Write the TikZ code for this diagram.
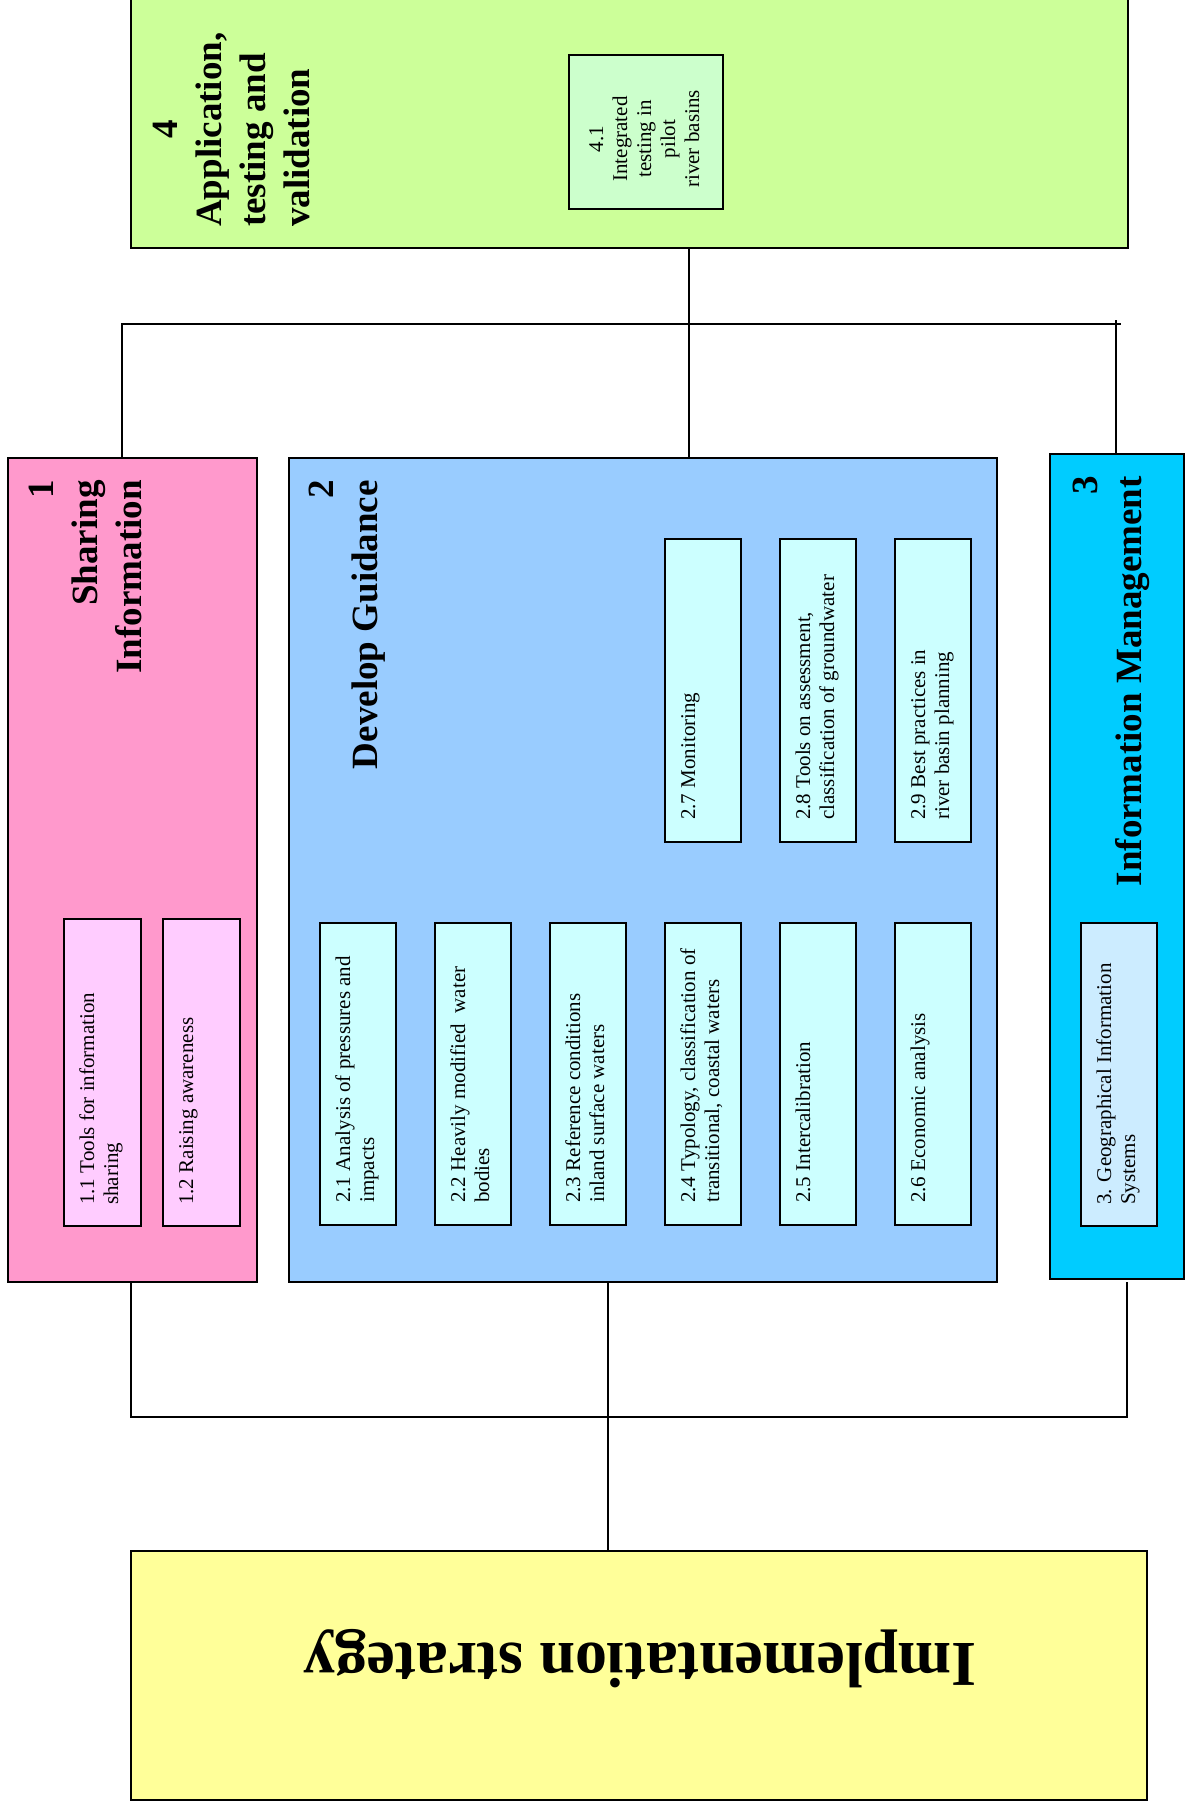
\documentclass[tikz,border=0pt]{standalone}
\usepackage{fontspec}
\setmainfont{Liberation Serif}
\usepackage{tikz}

\definecolor{sharepink}{HTML}{FF99CC}
\definecolor{sharelight}{HTML}{FFCCFF}
\definecolor{guideblue}{HTML}{99CCFF}
\definecolor{guidelight}{HTML}{CCFFFF}
\definecolor{infocyan}{HTML}{00CCFF}
\definecolor{infolight}{HTML}{CCECFF}
\definecolor{appgreen}{HTML}{CCFF99}
\definecolor{applight}{HTML}{CCFFCC}
\definecolor{implyellow}{HTML}{FFFF99}

\begin{document}
\begin{tikzpicture}[x=1pt,y=-1pt,
  box/.style={draw, line width=1.8pt, inner sep=0, outer sep=0, anchor=north west},
  link/.style={line width=1.5pt},
  title/.style={rotate=90, inner sep=0, font=\bfseries\fontsize{37}{44}\selectfont},
  itext/.style={rotate=90, inner sep=0, anchor=north west, font=\fontsize{21}{24}\selectfont}]
\useasboundingbox (0,0) rectangle (1185,1807);

% main boxes
\node[box, fill=appgreen, minimum width=997, minimum height=268] (app) at (131,-20) {};
\node[box, fill=sharepink, minimum width=249, minimum height=824] (share) at (8,458) {};
\node[box, fill=guideblue, minimum width=708, minimum height=824] (guide) at (289,458) {};
\node[box, fill=infocyan, minimum width=134, minimum height=825] (info) at (1050,454) {};
\node[box, fill=implyellow, minimum width=1016, minimum height=249] (impl) at (131,1551) {};

% titles
\node[title, anchor=north west] (appt) at (146,227)
  {\begin{tabular}{@{}l@{}}\multicolumn{1}{@{}c@{}}{4}\\Application,\\testing and\\validation\end{tabular}};
\node[title, anchor=north east] (sharet) at (22,480)
  {\begin{tabular}{@{}r@{}}1\\Sharing\\Information\end{tabular}};
\node[title, anchor=north east] (guidet) at (302,480)
  {\begin{tabular}{@{}r@{}}2\\Develop Guidance\end{tabular}};
\node[title, anchor=north east] (infot) at (1066,476)
  {\begin{tabular}{@{}r@{}}3\\Information Management\end{tabular}};
\node[rotate=180, inner sep=0, anchor=base, font=\bfseries\fontsize{64}{70}\selectfont] (implt) at (640,1643)
  {Implementation strategy};

% sub-tasks
\node[box, fill=applight, minimum width=154, minimum height=154] (a1) at (569,55) {};
\node[itext, anchor=north] (a1t) at (586,139)
  {\begin{tabular}{@{}c@{}}4.1\\Integrated\\testing in\\pilot\\river basins\end{tabular}};

\node[box, fill=sharelight, minimum width=77, minimum height=307] (s1) at (64,919) {};
\node[box, fill=sharelight, minimum width=77, minimum height=307] (s2) at (163,919) {};
\node[itext] (s1t) at ([shift={(13,-21)}]s1.south west) {\begin{tabular}{@{}l@{}}1.1 Tools for information\\sharing\end{tabular}};
\node[itext] (s2t) at ([shift={(13,-21)}]s2.south west) {\begin{tabular}{@{}l@{}}1.2 Raising awareness\end{tabular}};

\node[box, fill=guidelight, minimum width=76, minimum height=302] (g1) at (320,923) {};
\node[box, fill=guidelight, minimum width=76, minimum height=302] (g2) at (435,923) {};
\node[box, fill=guidelight, minimum width=76, minimum height=302] (g3) at (550,923) {};
\node[box, fill=guidelight, minimum width=76, minimum height=302] (g4) at (665,923) {};
\node[box, fill=guidelight, minimum width=76, minimum height=302] (g5) at (780,923) {};
\node[box, fill=guidelight, minimum width=76, minimum height=302] (g6) at (895,923) {};
\node[box, fill=guidelight, minimum width=76, minimum height=303] (g7) at (665,539) {};
\node[box, fill=guidelight, minimum width=76, minimum height=303] (g8) at (780,539) {};
\node[box, fill=guidelight, minimum width=76, minimum height=303] (g9) at (895,539) {};
\node[itext] (g1t) at ([shift={(13,-22)}]g1.south west) {\begin{tabular}{@{}l@{}}2.1 Analysis of pressures and\\impacts\end{tabular}};
\node[itext] (g2t) at ([shift={(13,-22)}]g2.south west) {\begin{tabular}{@{}l@{}}2.2 Heavily modified \ water\\bodies\end{tabular}};
\node[itext] (g3t) at ([shift={(13,-22)}]g3.south west) {\begin{tabular}{@{}l@{}}2.3 Reference conditions\\inland surface waters\end{tabular}};
\node[itext] (g4t) at ([shift={(13,-22)}]g4.south west) {\begin{tabular}{@{}l@{}}2.4 Typology, classification of\\transitional, coastal waters\end{tabular}};
\node[itext] (g5t) at ([shift={(13,-22)}]g5.south west) {\begin{tabular}{@{}l@{}}2.5 Intercalibration\end{tabular}};
\node[itext] (g6t) at ([shift={(13,-22)}]g6.south west) {\begin{tabular}{@{}l@{}}2.6 Economic analysis\end{tabular}};
\node[itext] (g7t) at ([shift={(13,-22)}]g7.south west) {\begin{tabular}{@{}l@{}}2.7 Monitoring\end{tabular}};
\node[itext] (g8t) at ([shift={(13,-22)}]g8.south west) {\begin{tabular}{@{}l@{}}2.8 Tools on assessment,\\classification of groundwater\end{tabular}};
\node[itext] (g9t) at ([shift={(13,-22)}]g9.south west) {\begin{tabular}{@{}l@{}}2.9 Best practices in\\river basin planning\end{tabular}};

\node[box, fill=infolight, minimum width=76, minimum height=303] (i1) at (1081,923) {};
\node[itext] (i1t) at ([shift={(13,-21)}]i1.south west) {\begin{tabular}{@{}l@{}}3. Geographical Information\\Systems\end{tabular}};

% connectors
\coordinate (u1) at (122,324);
\coordinate (u2) at (1121,324);
\coordinate (u3) at (1116,320);
\coordinate (u4) at (689,324);
\coordinate (l1) at (131,1417);
\coordinate (l2) at (1127,1417);
\coordinate (l4) at (608,1417);
\draw[link] (u1 |- share.north) -- (u1) -- (u2);
\draw[link] (u4 |- app.south) -- (u4 |- guide.north);
\draw[link] (u3) -- (u3 |- info.north);
\draw[link] (l1 |- share.south) -- (l1) -- (l2) -- (l2 |- guide.south);
\draw[link] (l4 |- guide.south) -- (l4 |- impl.north);
\end{tikzpicture}
\end{document}
